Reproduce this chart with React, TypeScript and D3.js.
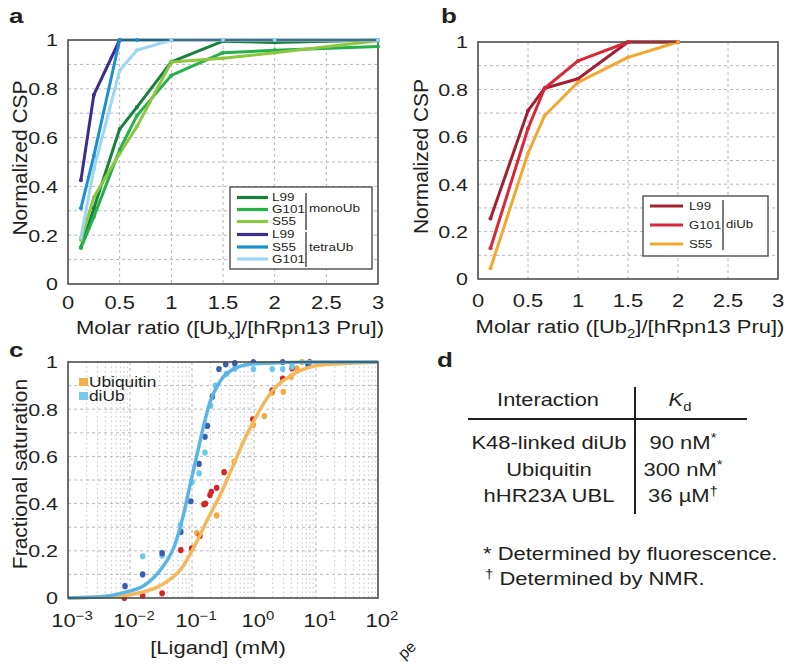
import React, { useEffect, useRef } from "react";
import * as d3 from "d3";

const FONT = "'Liberation Sans', Arial, Helvetica, sans-serif";
const SY = 0.8; // figure text is squashed vertically
const INK = "#231f20";
const GRID = "#b4b8c4";

// panel a: monoUb / tetraUb titrations
const ratioA = [0.125, 0.25, 0.5, 0.667, 1, 1.5, 2, 3];
const ratioTetraL99 = [0.125, 0.25, 0.5];
const monoL99 = [0.15, 0.31, 0.635, 0.725, 0.91, 0.995, 0.99, 1.0];
const monoG101 = [0.148, 0.275, 0.55, 0.69, 0.855, 0.948, 0.958, 0.973];
const monoS55 = [0.18, 0.355, 0.535, 0.645, 0.91, 0.925, 0.948, 0.997];
const tetraL99 = [0.425, 0.775, 1.0];
const tetraS55 = [0.31, 0.525, 1, 1, 1, 1, 1, 1];
const tetraG101 = [0.19, 0.47, 0.875, 0.958, 1, 1, 1, 1];

// panel b: diUb titration
const ratioB = [0.125, 0.5, 0.667, 1, 1.5, 2];
const diL99 = [0.255, 0.71, 0.805, 0.845, 1, 1];
const diG101 = [0.13, 0.635, 0.805, 0.92, 1, 1];
const diS55 = [0.045, 0.53, 0.69, 0.83, 0.935, 1];

const ratioTicks = [0, 0.5, 1, 1.5, 2, 2.5, 3];
const cspTicks = [0, 0.2, 0.4, 0.6, 0.8, 1];

// panel c: fluorescence saturation, [mM, fraction]
const diUbDark = [
  [0.0083, 0.05], [0.016, 0.1], [0.033, 0.19], [0.066, 0.28], [0.096, 0.41],
  [0.13, 0.568], [0.162, 0.683], [0.177, 0.729], [0.213, 0.853], [0.272, 0.97],
  [0.35, 0.99], [0.49, 0.995], [0.98, 1.0], [2.9, 1.0], [7.4, 0.99],
];
const diUbLight = [
  [0.016, 0.177], [0.033, 0.18], [0.065, 0.31], [0.1, 0.49], [0.13, 0.528],
  [0.162, 0.616], [0.2, 0.815], [0.24, 0.9], [0.36, 0.95], [0.49, 0.972],
  [0.98, 0.97], [1.97, 0.97], [2.9, 0.97], [4.1, 0.98], [7.8, 0.995],
];
const ubRed = [
  [0.0081, 0.0], [0.016, 0.01], [0.033, 0.02], [0.066, 0.203], [0.099, 0.21],
  [0.134, 0.263], [0.156, 0.397], [0.165, 0.4], [0.195, 0.436], [0.205, 0.45],
  [0.25, 0.467], [0.33, 0.533], [0.96, 0.757], [1.97, 0.88], [2.9, 0.93],
  [4.1, 0.973], [7.9, 1.0],
];
const ubOrange = [
  [0.12, 0.275], [0.25, 0.35], [0.48, 0.578], [0.98, 0.733], [1.47, 0.771],
  [1.97, 0.87], [2.97, 0.874], [3.98, 0.938], [4.9, 0.973], [5.9, 1.0],
];
const diUbFit = [
  [0.001, 0.0], [0.003, 0.004], [0.0083, 0.024], [0.0174, 0.055], [0.0324, 0.126],
  [0.0537, 0.23], [0.0724, 0.35], [0.0933, 0.48], [0.12, 0.606], [0.151, 0.72],
  [0.195, 0.83], [0.282, 0.917], [0.49, 0.973], [1, 0.993], [10, 1], [100, 1],
];
const ubFit = [
  [0.001, 0.0], [0.003, 0.004], [0.0093, 0.013], [0.032, 0.055], [0.068, 0.126],
  [0.112, 0.225], [0.182, 0.338], [0.302, 0.45], [0.49, 0.578], [0.716, 0.677],
  [0.977, 0.747], [1.93, 0.874], [4.57, 0.952], [12.3, 0.987], [100, 0.999],
];
const ligandTicks = [-3, -2, -1, 0, 1, 2];

// panel d
const interactions = ["K48-linked diUb", "Ubiquitin", "hHR23A UBL"];
const kdValues = [["90 nM", "*"], ["300 nM", "*"], ["36 µM", "†"]];

type Part = [string, "sub" | "sup" | null];

function label(g: any, x: number, y: number, parts: Part[] | string, size: number, anchor = "start", weight = "normal") {
  const t = g.append("text")
    .attr("transform", `translate(${x},${y}) scale(1,${SY})`)
    .attr("font-size", size)
    .attr("font-weight", weight)
    .attr("text-anchor", anchor)
    .attr("fill", INK);
  if (typeof parts === "string") {
    t.text(parts);
    return t;
  }
  let shift = 0;
  parts.forEach(([s, kind]) => {
    const target = kind === "sub" ? size * 0.3 : kind === "sup" ? -size * 0.4 : 0;
    t.append("tspan")
      .attr("dy", target - shift)
      .attr("font-size", kind ? size * 0.68 : size)
      .text(s);
    shift = target;
  });
  return t;
}

function ratioPanel(svg: any, o: any) {
  const g = svg.append("g");
  const x = d3.scaleLinear().domain([0, 3]).range([o.left, o.right]);
  const y = d3.scaleLinear().domain([0, 1]).range([o.bottom, o.top]);

  ratioTicks.slice(1, -1).forEach((v) =>
    g.append("line").attr("x1", x(v)).attr("x2", x(v)).attr("y1", o.top).attr("y2", o.bottom)
      .attr("stroke", GRID).attr("stroke-dasharray", "3,3"));
  d3.range(1, 10).forEach((i) =>
    g.append("line").attr("x1", o.left).attr("x2", o.right).attr("y1", y(i / 10)).attr("y2", y(i / 10))
      .attr("stroke", GRID).attr("stroke-dasharray", "3,3"));

  o.series.forEach((s: any) => {
    const l = d3.line<number>().x((d, i) => x(s.x[i])).y((d) => y(d));
    g.append("path").attr("d", l(s.y)).attr("fill", "none").attr("stroke", s.color)
      .attr("stroke-width", 3).attr("stroke-linejoin", "round");
  });
  g.append("rect").attr("x", o.left).attr("y", o.top).attr("width", o.right - o.left)
    .attr("height", o.bottom - o.top).attr("fill", "none").attr("stroke", "#4d4d4d").attr("stroke-width", 1.6);
  o.series.forEach((s: any) => {
    g.selectAll(null).data(s.y).enter().append("circle")
      .attr("cx", (d: number, i: number) => x(s.x[i])).attr("cy", (d: number) => y(d))
      .attr("r", 2).attr("fill", s.color);
  });

  ratioTicks.forEach((v) => label(g, x(v), o.xTickY, String(v), 22, "middle"));
  cspTicks.forEach((v) => label(g, o.left - 10, y(v) + 6.3, String(v), 21.5, "end"));
  label(g, o.xLabelX, o.xLabelY, o.xLabel, 22, "middle");
  g.append("text").attr("transform", `translate(${o.yLabelX},${(o.top + o.bottom) / 2 - 4}) rotate(-90)`)
    .attr("font-size", 21).attr("text-anchor", "middle").attr("fill", INK).text("Normalized CSP");
  label(g, o.letterX, o.letterY, o.letter, 26, "start", "bold");

  // legend
  const lg = o.legend;
  g.append("rect").attr("x", lg.x0).attr("y", lg.y0).attr("width", lg.x1 - lg.x0).attr("height", lg.y1 - lg.y0)
    .attr("fill", "#fff").attr("stroke", "#4d4d4d").attr("stroke-width", 1.4);
  o.series.forEach((s: any, i: number) => {
    const cy = lg.rows[i];
    g.append("line").attr("x1", lg.sx0).attr("x2", lg.sx1).attr("y1", cy).attr("y2", cy)
      .attr("stroke", s.color).attr("stroke-width", 3.2);
    label(g, lg.tx, cy + lg.size * 0.29, s.name, lg.size);
  });
  lg.groups.forEach((gr: any) => {
    g.append("line").attr("x1", lg.bar).attr("x2", lg.bar).attr("y1", gr.y0).attr("y2", gr.y1)
      .attr("stroke", INK).attr("stroke-width", 1.2);
    label(g, lg.bar + 3, gr.cy + lg.size * 0.29, gr.name, lg.size);
  });
}

const App = () => {
  const ref = useRef<SVGSVGElement>(null);

  useEffect(() => {
    const svg = d3.select(ref.current);
    svg.selectAll("*").remove();

    ratioPanel(svg, {
      left: 68, right: 378, top: 40, bottom: 284,
      xTickY: 309, xLabelX: 230, xLabelY: 334, yLabelX: 27,
      letter: "a", letterX: 9, letterY: 23,
      xLabel: [["Molar ratio ([Ub", null], ["x", "sub"], ["]/[hRpn13 Pru])", null]],
      series: [
        { name: "L99", x: ratioA, y: monoL99, color: "#17803d" },
        { name: "G101", x: ratioA, y: monoG101, color: "#25b04b" },
        { name: "S55", x: ratioA, y: monoS55, color: "#8dc63f" },
        { name: "L99", x: ratioTetraL99, y: tetraL99, color: "#3d2c8d" },
        { name: "S55", x: ratioA, y: tetraS55, color: "#1b8fd2" },
        { name: "G101", x: ratioA, y: tetraG101, color: "#9fd4f3" },
      ],
      legend: {
        x0: 230, x1: 372, y0: 187, y1: 269, sx0: 237, sx1: 268, tx: 272, bar: 306, size: 13.5,
        rows: [197.5, 209.5, 221.5, 234.5, 247, 259],
        groups: [{ name: "monoUb", y0: 193, y1: 230, cy: 208 }, { name: "tetraUb", y0: 232, y1: 267, cy: 247 }],
      },
    });

    ratioPanel(svg, {
      left: 478, right: 778, top: 42, bottom: 279,
      xTickY: 307, xLabelX: 630, xLabelY: 333, yLabelX: 428,
      letter: "b", letterX: 441, letterY: 23,
      xLabel: [["Molar ratio ([Ub", null], ["2", "sub"], ["]/[hRpn13 Pru])", null]],
      series: [
        { name: "L99", x: ratioB, y: diL99, color: "#a3202e" },
        { name: "G101", x: ratioB, y: diG101, color: "#d8283a" },
        { name: "S55", x: ratioB, y: diS55, color: "#f2a72e" },
      ],
      legend: {
        x0: 643, x1: 768, y0: 196, y1: 256, sx0: 650, sx1: 683, tx: 689, bar: 723, size: 13.2,
        rows: [206, 225, 244],
        groups: [{ name: "diUb", y0: 200, y1: 250, cy: 224 }],
      },
    });

    // panel c
    const gc = svg.append("g");
    const L = 68, R = 378, T = 362, B = 598;
    const x = d3.scaleLog().domain([1e-3, 1e2]).range([L, R]);
    const y = d3.scaleLinear().domain([0, 1]).range([B, T]);
    ligandTicks.slice(0, -1).forEach((p) => {
      d3.range(1, 10).forEach((m) => {
        const v = m * Math.pow(10, p);
        if (m === 1 && p === -3) return;
        gc.append("line").attr("x1", x(v)).attr("x2", x(v)).attr("y1", T).attr("y2", B)
          .attr("stroke", GRID).attr("stroke-dasharray", m === 1 ? "3,3" : "1.5,3").attr("stroke-width", m === 1 ? 1 : 0.8);
      });
    });
    d3.range(1, 10).forEach((i) =>
      gc.append("line").attr("x1", L).attr("x2", R).attr("y1", y(i / 10)).attr("y2", y(i / 10))
        .attr("stroke", GRID).attr("stroke-dasharray", "3,3"));

    const pts = (data: number[][], color: string) =>
      gc.selectAll(null).data(data).enter().append("ellipse")
        .attr("cx", (d: number[]) => x(d[0])).attr("cy", (d: number[]) => y(d[1]))
        .attr("rx", 2.8).attr("ry", 3.1).attr("fill", color);
    pts(ubOrange, "#f0ab3c");
    pts(ubRed, "#d8232a");
    pts(diUbLight, "#6cc8ef");
    pts(diUbDark, "#3b5fb0");

    const fit = d3.line<number[]>().x((d) => x(d[0])).y((d) => y(d[1])).curve(d3.curveMonotoneX);
    gc.append("path").attr("d", fit(ubFit)).attr("fill", "none").attr("stroke", "#f4b75a").attr("stroke-width", 3.5);
    gc.append("path").attr("d", fit(diUbFit)).attr("fill", "none").attr("stroke", "#5ab5e6").attr("stroke-width", 3.5);

    gc.append("rect").attr("x", L).attr("y", T).attr("width", R - L).attr("height", B - T)
      .attr("fill", "none").attr("stroke", "#4d4d4d").attr("stroke-width", 1.6);

    // legend c
    [["Ubiquitin", "#f2b04c", 382], ["diUb", "#78c8ee", 396]].forEach(([name, col, cy]: any) => {
      gc.append("rect").attr("x", 79).attr("y", cy - 4).attr("width", 9).attr("height", 8).attr("fill", col);
      label(gc, 89, cy + 4.5, name, 17.3);
    });

    ligandTicks.forEach((p) =>
      label(gc, x(Math.pow(10, p)) + 4, 627, [["10", null], [p < 0 ? "−" + -p : String(p), "sup"]], 22, "middle"));
    cspTicks.forEach((v) => label(gc, L - 10, y(v) + 6.3, String(v), 21.5, "end"));
    label(gc, 218, 654, "[Ligand] (mM)", 22, "middle");
    gc.append("text").attr("transform", `translate(27,${(T + B) / 2 - 6}) rotate(-90)`)
      .attr("font-size", 21).attr("text-anchor", "middle").attr("fill", INK).text("Fractional saturation");
    label(gc, 9, 357, "c", 26, "start", "bold");

    // panel d
    const gd = svg.append("g");
    label(gd, 437, 367, "d", 26, "start", "bold");
    label(gd, 548, 406, "Interaction", 21.8, "middle");
    const kd = label(gd, 680, 406, [["K", null], ["d", "sub"]], 21.8, "middle");
    kd.select("tspan").attr("font-style", "italic");
    gd.append("line").attr("x1", 468).attr("x2", 747).attr("y1", 419).attr("y2", 419).attr("stroke", INK).attr("stroke-width", 2);
    gd.append("line").attr("x1", 635).attr("x2", 635).attr("y1", 387).attr("y2", 514).attr("stroke", INK).attr("stroke-width", 2);
    const rowY = [449, 476, 502];
    interactions.forEach((s, i) => label(gd, 549, rowY[i], s, 22, "middle"));
    kdValues.forEach(([v, mark], i) =>
      label(gd, 683, rowY[i], [[v, null], [mark, "sup"]], 22, "middle"));
    label(gd, 483, 560, "* Determined by fluorescence.", 22);
    label(gd, 485, 585, [["†", "sup"], [" Determined by NMR.", null]], 22);

    // stray caption fragment at the lower edge
    svg.append("text").attr("transform", "translate(404,660) rotate(-42)")
      .attr("font-size", 16).attr("fill", INK).text("pe");
  }, []);

  return (
    <svg
      ref={ref}
      width={788}
      height={665}
      style={{ position: "absolute", left: 0, top: 0, background: "#fff", fontFamily: FONT }}
    />
  );
};

export default App;
